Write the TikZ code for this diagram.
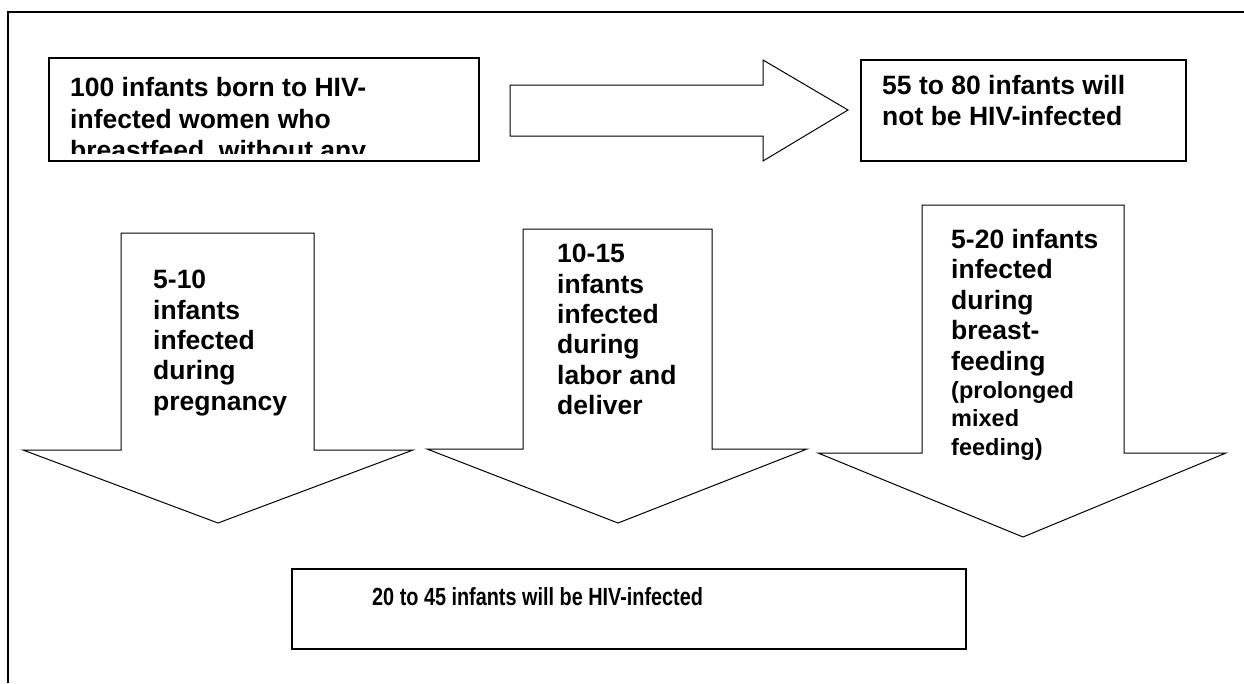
\documentclass[tikz,border=0pt]{standalone}
\usepackage{fontspec}
\setmainfont{Liberation Sans}
\usepackage{graphicx}

\begin{document}
\begin{tikzpicture}[x=1pt, y=-1pt,
  blk/.style={draw, line width=1.2pt, fill=white},
  arr/.style={draw, line width=1pt, fill=white},
  boxtxt/.style={font=\bfseries\fontsize{26.5}{31.5}\selectfont, align=left, inner sep=0pt, anchor=north west},
  arrtxt/.style={font=\bfseries\fontsize{26.5}{30.4}\selectfont, align=left, inner sep=0pt, anchor=north west},
  smalltxt/.style={font=\bfseries\fontsize{23.5}{28.5}\selectfont, align=left, inner sep=0pt, anchor=north west}]
  \useasboundingbox (0,0) rectangle (1244,683);
  % frame
  \draw[line width=2pt] (8,683) -- (8,12) -- (1244,12);
  % top row
  \node[blk, minimum width=430pt, minimum height=103pt] (mothers) at (264,109.5) {};
  \begin{scope}
    \clip (49,58) rectangle (479,153);
    \node[boxtxt] (motherstxt) at (70,77.5) {100 infants born to HIV-\\infected women who\\breastfeed, without any};
  \end{scope}
  \draw[arr] (510,85) -- (763,85) -- (763,60) -- (848,110) -- (763,161) -- (763,136) -- (510,136) -- cycle;
  \node[blk, minimum width=325pt, minimum height=101pt] (safe) at (1023.5,110.5) {};
  \node[boxtxt] (safetxt) at (882,75) {55 to 80 infants will\\not be HIV-infected};
  % down arrows
  \draw[arr] (121,233) -- (314,233) -- (314,450) -- (413,450) -- (218,523) -- (23,450) -- (121,450) -- cycle;
  \node[arrtxt] (pregtxt) at (153,270) {5-10\\infants\\infected\\during\\pregnancy};
  \draw[arr] (523,229) -- (712,229) -- (712,449) -- (807,449) -- (618,523) -- (427,449) -- (523,449) -- cycle;
  \node[arrtxt] (labortxt) at (557,244) {10-15\\infants\\infected\\during\\labor and\\deliver};
  \draw[arr] (922,205) -- (1124,205) -- (1124,453) -- (1226,453) -- (1023,537) -- (818,453) -- (922,453) -- cycle;
  \node[arrtxt] (bfeedtxt) at (951,229) {5-20 infants\\infected\\during\\breast-\\feeding};
  \node[smalltxt] (mixedtxt) at (951,381) {(prolonged\\mixed\\feeding)};
  % result
  \node[blk, minimum width=674pt, minimum height=80pt] (infected) at (629,609) {};
  \node[font=\bfseries\fontsize{24.8}{29}\selectfont, inner sep=0pt, anchor=base west] (infectedtxt) at (372,605) {\scalebox{0.8}[1]{20 to 45 infants will be HIV-infected}};
\end{tikzpicture}
\end{document}
